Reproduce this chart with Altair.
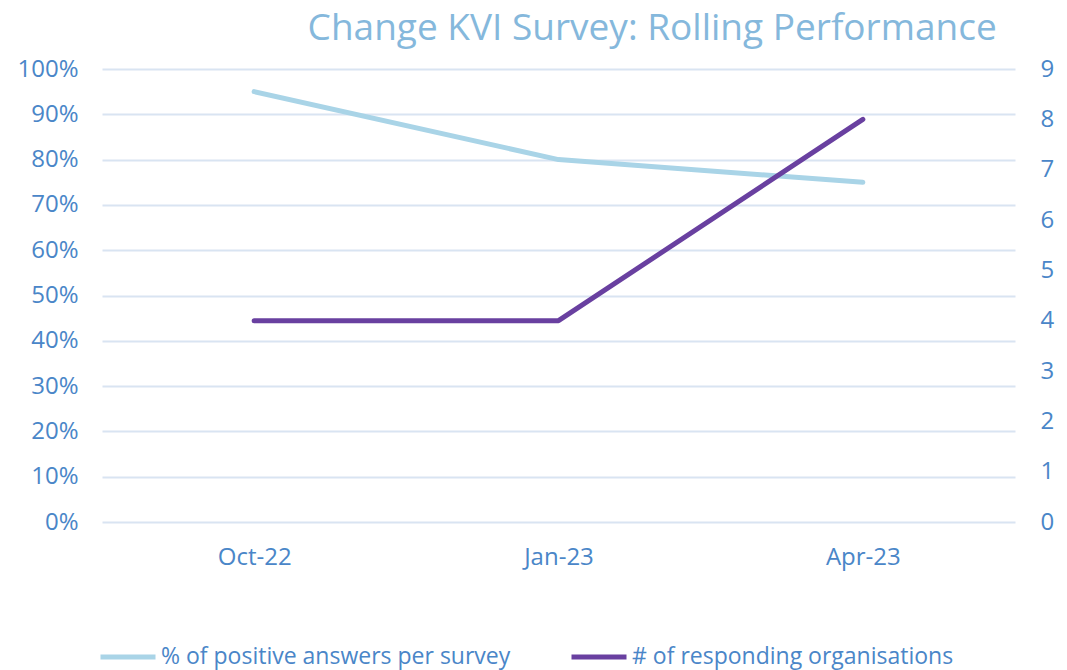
import altair as alt
import pandas as pd

months = ["Oct-22", "Jan-23", "Apr-23"]
pct_positive = [0.95, 0.80, 0.75]
num_orgs = [4, 4, 8]
series_names = ["% of positive answers per survey", "# of responding organisations"]
series_colors = ["#A9D4E7", "#6940A0"]
left_ticks = [0.0, 0.1, 0.2, 0.3, 0.4, 0.5, 0.6, 0.7, 0.8, 0.9, 1.0]
right_ticks = [0, 1, 2, 3, 4, 5, 6, 7, 8, 9]
title_text = "Change KVI Survey: Rolling Performance"

FONT = "Open Sans"
LABEL_COLOR = "#4A86C8"
FS = 24

df = pd.DataFrame({
    "month": months * 2,
    "series": [series_names[0]] * len(months) + [series_names[1]] * len(months),
    "value": pct_positive + num_orgs,
})

x_enc = alt.X(
    "month:N", sort=months,
    scale=alt.Scale(type="point", padding=0.5),
    axis=alt.Axis(title=None, labelAngle=0, labelPadding=23, grid=False),
)
color_enc = alt.Color(
    "series:N",
    scale=alt.Scale(domain=series_names, range=series_colors),
    legend=alt.Legend(
        title=None, orient="none", direction="horizontal",
        legendX=-4, legendY=558,
        symbolType="stroke", symbolSize=3025, symbolStrokeWidth=5,
        labelFont=FONT, labelFontSize=23, labelColor=LABEL_COLOR,
        labelOffset=3, columnPadding=50, labelLimit=600,
    ),
)

base = alt.Chart(df).mark_line(strokeWidth=5, strokeCap="round", strokeJoin="round")

line_pct = base.transform_filter(alt.datum.series == series_names[0]).encode(
    x=x_enc,
    y=alt.Y("value:Q", scale=alt.Scale(domain=[0, 1]),
            axis=alt.Axis(title=None, format=".0%", values=left_ticks, orient="left",
                          labelPadding=24, grid=True)),
    color=color_enc,
)
line_orgs = base.transform_filter(alt.datum.series == series_names[1]).encode(
    x=x_enc,
    y=alt.Y("value:Q", scale=alt.Scale(domain=[0, 9]),
            axis=alt.Axis(title=None, values=right_ticks, orient="right",
                          labelPadding=25, grid=False)),
    color=color_enc,
)

chart = alt.layer(line_pct, line_orgs).resolve_scale(y="independent").properties(
    width=913, height=453,
    autosize=alt.AutoSizeParams(type="none"),
    padding={"left": 94, "top": 61, "right": 44, "bottom": 148},
    title=alt.TitleParams(
        title_text, anchor="end", dx=-57, offset=9,
        font=FONT, fontSize=37, fontWeight="normal", color="#85B8DC",
    ),
).configure_view(stroke=None).configure_axis(
    labelFont=FONT, labelFontSize=FS, labelColor=LABEL_COLOR,
    gridColor="#D9E4F2", gridWidth=2, domain=False, ticks=False,
)

chart.save("out.html", embed_options={"renderer": "svg", "actions": False})
